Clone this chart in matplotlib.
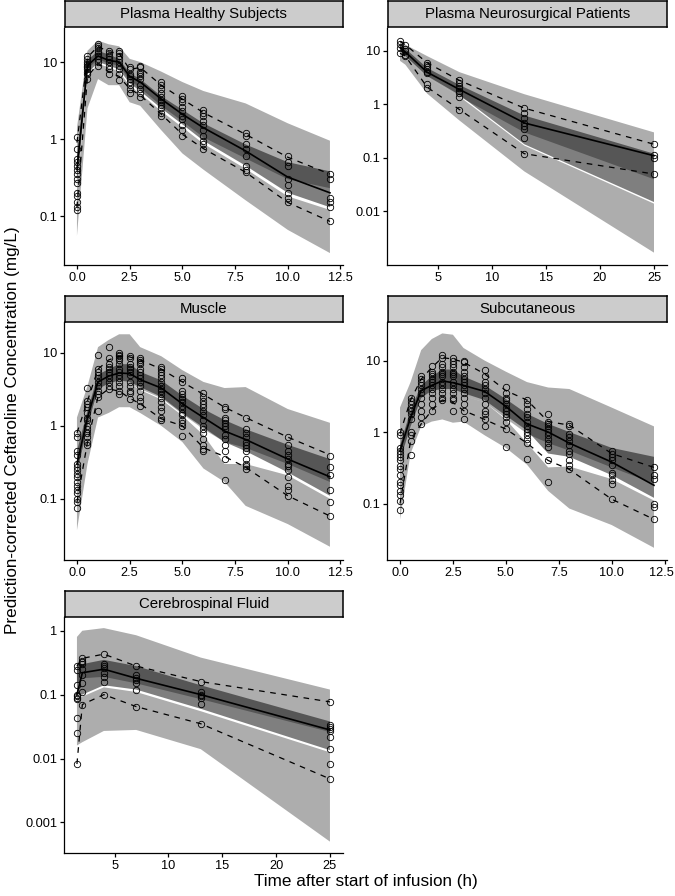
import matplotlib
matplotlib.use("Agg")
import matplotlib.pyplot as plt
import matplotlib.transforms as mtrans
from matplotlib.ticker import FixedLocator, FixedFormatter, NullLocator

plt.rcParams['font.family'] = ['Liberation Sans', 'DejaVu Sans']

# ---------------- Plasma Healthy Subjects ----------------
hs_t = [0, 0.5, 1, 1.5, 2, 2.5, 3, 4, 5, 6, 8, 10, 12]
hs_obs = [
    [1.05, 0.75, 0.55, 0.5, 0.45, 0.4, 0.35, 0.3, 0.27, 0.2, 0.18, 0.15, 0.13, 0.12],
    [12, 11, 10, 9.5, 9, 8.5, 8, 7.5, 7, 6],
    [17, 16, 15, 14, 13, 12, 11, 10, 9],
    [14, 13, 12, 11, 10, 9, 8, 7],
    [14, 13, 12, 11, 10, 9, 8, 7, 5.8],
    [8.5, 8, 7, 6.5, 6, 5.5, 5, 4.5, 4],
    [9, 8.5, 7.5, 7, 6.5, 6, 5, 4.5, 4, 3.5],
    [5.5, 5, 4.5, 4, 3.5, 3.2, 3, 2.8, 2.5, 2.2, 2],
    [3.6, 3.3, 3, 2.6, 2.3, 2, 1.8, 1.5, 1.3, 1.1],
    [2.4, 2.2, 2, 1.7, 1.5, 1.3, 1.1, 0.95, 0.85, 0.75],
    [1.2, 1.1, 0.85, 0.75, 0.6, 0.45, 0.4, 0.37],
    [0.6, 0.5, 0.45, 0.3, 0.25, 0.2, 0.17, 0.15],
    [0.35, 0.3, 0.17, 0.15, 0.13, 0.085],
]
hs_med = [0.4, 9, 12, 10.5, 10, 6.5, 5.5, 3.3, 2.1, 1.4, 0.7, 0.32, 0.2]
hs_p95 = [0.9, 11.5, 16, 13.5, 13, 8, 8.5, 5, 3.3, 2.2, 1.15, 0.58, 0.35]
hs_p05 = [0.13, 6.5, 9.5, 7.5, 6.5, 4.5, 3.7, 2.1, 1.15, 0.75, 0.37, 0.15, 0.085]
hs_hi_u = [1.4, 14, 19, 17, 16, 11, 10, 7.5, 5.5, 4.2, 2.9, 1.6, 0.95]
hs_hi_l = [0.3, 8, 11, 9.5, 9, 5.8, 4.6, 2.7, 1.7, 1.05, 0.56, 0.3, 0.23]
hs_md_u = [0.6, 10.5, 14, 12.5, 11, 7.2, 6, 3.6, 2.4, 1.6, 0.85, 0.5, 0.38]
hs_md_l = [0.25, 7, 10, 9, 8, 5.3, 4.2, 2.5, 1.55, 0.95, 0.45, 0.2, 0.13]
hs_lo_u = [0.22, 6.5, 9.5, 8.5, 7.5, 4.9, 3.9, 2.3, 1.42, 0.87, 0.41, 0.18, 0.12]
hs_lo_l = [0.055, 2.5, 6, 5, 5, 3, 2.7, 1.3, 0.65, 0.4, 0.16, 0.066, 0.033]

# ---------------- Plasma Neurosurgical Patients ----------------
ns_t = [1.5, 2, 4, 7, 13, 25]
ns_obs = [
    [15, 13.3, 11.5, 9],
    [13, 11, 10, 8.5, 8],
    [6, 5.5, 5, 4.5, 4, 3.8, 2.4, 2.0],
    [2.8, 2.5, 2.2, 2.0, 1.8, 1.6, 1.4, 0.8],
    [0.85, 0.7, 0.55, 0.45, 0.4, 0.35, 0.24, 0.12],
    [0.18, 0.115, 0.1, 0.05],
]
ns_med = [11.5, 9.5, 4, 1.9, 0.45, 0.11]
ns_p95 = [15, 13, 6, 2.8, 0.85, 0.18]
ns_p05 = [9, 8, 2.1, 0.8, 0.12, 0.05]
ns_hi_u = [15, 13, 8, 4.0, 1.55, 0.3]
ns_hi_l = [9.5, 7.5, 3.2, 1.4, 0.3, 0.04]
ns_md_u = [13, 11, 4.8, 2.3, 0.62, 0.12]
ns_md_l = [10, 8, 3.4, 1.5, 0.18, 0.015]
ns_lo_u = [9.5, 7.5, 3.2, 1.4, 0.17, 0.014]
ns_lo_l = [6.5, 5.5, 1.6, 0.5, 0.056, 0.0017]

# ---------------- Muscle ----------------
mu_t = [0, 0.5, 1, 1.5, 2, 2.5, 3, 4, 5, 6, 7, 8, 10, 12]
mu_obs = [
    [0.8, 0.7, 0.45, 0.4, 0.3, 0.27, 0.25, 0.22, 0.2, 0.17, 0.15, 0.13, 0.12, 0.1, 0.09, 0.075],
    [3.3, 2.2, 2, 1.8, 1.5, 1.3, 1.2, 1.0, 0.9, 0.8, 0.7, 0.6, 0.55],
    [9.5, 6, 5.5, 5, 4.5, 4, 3.5, 3, 2.7, 2.5, 1.6],
    [12, 8.5, 7, 6.5, 6, 5.5, 5, 4.5, 4, 3.5, 3.2],
    [10, 9.5, 9, 8.5, 8, 7, 6, 5.5, 5, 4.5, 4, 3.5, 3, 2.7],
    [9, 8.5, 7, 6.5, 6, 5.5, 5, 4, 3.5, 3, 2.8, 2.3],
    [8.5, 8, 7.5, 7, 6, 5.5, 5, 4.5, 4, 3.5, 3, 2.5, 2.2, 1.9],
    [6.5, 6, 5.5, 5, 4.5, 4, 3.5, 3.2, 3, 2.7, 2.4, 2.1, 1.8, 1.6, 1.3, 1.2],
    [4.5, 4, 3, 2.7, 2.5, 2.3, 2.1, 1.9, 1.7, 1.5, 1.4, 1.2, 1.1, 1.0, 0.72],
    [2.8, 2.5, 2.2, 2.0, 1.8, 1.6, 1.4, 1.2, 1.0, 0.9, 0.8, 0.65, 0.55, 0.48, 0.45],
    [1.8, 1.7, 1.3, 1.2, 1.1, 1.0, 0.9, 0.75, 0.65, 0.55, 0.45, 0.35, 0.18],
    [1.3, 0.9, 0.8, 0.7, 0.6, 0.55, 0.5, 0.45, 0.35, 0.3, 0.28, 0.26],
    [0.7, 0.55, 0.45, 0.4, 0.35, 0.3, 0.28, 0.25, 0.2, 0.15, 0.13, 0.11],
    [0.38, 0.27, 0.21, 0.13, 0.09, 0.058],
]
mu_med = [0.3, 1.3, 4, 4.8, 5.3, 5.2, 4.3, 3.3, 2.0, 1.3, 0.85, 0.65, 0.35, 0.2]
mu_p95 = [0.8, 2.2, 6, 8, 9, 8.8, 8, 6, 4, 2.7, 1.8, 1.3, 0.7, 0.4]
mu_p05 = [0.09, 0.6, 2.5, 3.2, 3.0, 2.4, 2.0, 1.25, 1.0, 0.5, 0.38, 0.27, 0.11, 0.058]
mu_hi_u = [1.3, 3.5, 12, 15, 18, 18, 12, 9, 5.8, 4, 3.3, 3.4, 1.7, 1.1]
mu_hi_l = [0.2, 0.95, 3.0, 3.6, 4.0, 3.8, 3.2, 2.4, 1.45, 0.9, 0.6, 0.5, 0.3, 0.17]
mu_md_u = [0.45, 1.6, 5, 6, 7, 7, 5.5, 4.2, 2.6, 1.7, 1.2, 0.9, 0.55, 0.35]
mu_md_l = [0.22, 1.0, 3.2, 3.8, 4.2, 4, 3.4, 2.5, 1.5, 0.95, 0.6, 0.45, 0.23, 0.11]
mu_lo_u = [0.2, 0.95, 3.0, 3.6, 4.0, 3.8, 3.1, 2.3, 1.38, 0.75, 0.3, 0.3, 0.21, 0.1]
mu_lo_l = [0.037, 0.3, 1.3, 1.5, 1.8, 1.8, 1.5, 1.0, 0.6, 0.26, 0.17, 0.08, 0.045, 0.022]

# ---------------- Subcutaneous ----------------
sc_t = [0, 0.5, 1, 1.5, 2, 2.5, 3, 4, 5, 6, 7, 8, 10, 12]
sc_obs = [
    [1.0, 0.9, 0.6, 0.55, 0.5, 0.45, 0.4, 0.33, 0.3, 0.25, 0.2, 0.18, 0.15, 0.13, 0.11, 0.08],
    [3, 2.7, 2.5, 2.2, 2, 1.8, 1.5, 1.0, 0.9, 0.75, 0.47],
    [6, 5.5, 5, 4.5, 4, 3.5, 3, 2.5, 2, 1.6, 1.3],
    [8.5, 7, 6.5, 6, 5.5, 5, 4.5, 4, 3.5, 3, 2.5, 2.0],
    [12, 11, 9, 8, 7, 6.5, 6, 5, 4.5, 4, 3.5, 3, 2.8],
    [11, 10, 9, 8, 7, 6.5, 6, 5, 4.5, 4, 3.5, 3, 2.8, 2.0],
    [10, 9.5, 8, 7, 6, 5.5, 5, 4.5, 4, 3.5, 3, 2.5, 2, 1.5],
    [7.5, 6, 5, 4.5, 4, 3.5, 3, 2.5, 2, 1.8, 1.5, 1.2],
    [4.2, 3.5, 3, 2.8, 2.5, 2.2, 2.0, 1.8, 1.6, 1.4, 1.1, 0.62],
    [2.8, 2.5, 2.1, 1.8, 1.6, 1.4, 1.2, 1.1, 1.0, 0.9, 0.8, 0.7, 0.42],
    [1.8, 1.4, 1.3, 1.2, 1.1, 1.0, 0.9, 0.8, 0.7, 0.62, 0.4, 0.2],
    [1.3, 1.2, 0.95, 0.85, 0.75, 0.65, 0.55, 0.5, 0.4, 0.35, 0.3],
    [0.55, 0.5, 0.45, 0.4, 0.35, 0.27, 0.25, 0.21, 0.19, 0.115],
    [0.32, 0.25, 0.22, 0.1, 0.09, 0.06],
]
sc_med = [0.55, 1.6, 3.8, 4.5, 5.2, 4.9, 4.5, 3.7, 2.3, 1.3, 1.0, 0.7, 0.38, 0.18]
sc_p95 = [0.95, 2.8, 5.5, 8, 11, 10.5, 9.5, 6.5, 3.8, 2.8, 1.4, 1.25, 0.5, 0.32]
sc_p05 = [0.1, 0.75, 1.3, 2.0, 2.8, 2.6, 2.0, 1.5, 1.1, 0.7, 0.4, 0.3, 0.115, 0.06]
sc_hi_u = [2.2, 5, 14, 20, 24, 23, 15, 10, 7, 5, 4.2, 4.0, 2.2, 1.2]
sc_hi_l = [0.35, 1.1, 2.8, 3.5, 3.7, 3.7, 3.2, 2.6, 1.55, 0.95, 0.7, 0.55, 0.32, 0.19]
sc_md_u = [0.65, 2.0, 4.5, 6, 7.5, 7.5, 6, 4.5, 2.9, 1.8, 1.3, 1.0, 0.6, 0.45]
sc_md_l = [0.4, 1.2, 3.0, 3.8, 4.0, 4.0, 3.5, 2.8, 1.7, 1.05, 0.5, 0.45, 0.25, 0.12]
sc_lo_u = [0.35, 1.1, 2.8, 3.5, 3.7, 3.7, 3.2, 2.6, 1.5, 0.7, 0.32, 0.33, 0.22, 0.11]
sc_lo_l = [0.06, 0.5, 1.2, 1.4, 1.5, 1.35, 1.4, 0.9, 0.6, 0.35, 0.15, 0.085, 0.05, 0.024]

# ---------------- Cerebrospinal Fluid ----------------
cf_t = [1.5, 2, 4, 7, 13, 25]
cf_obs = [
    [0.28, 0.24, 0.14, 0.1, 0.095, 0.09, 0.085, 0.043, 0.025, 0.0082],
    [0.37, 0.34, 0.32, 0.3, 0.25, 0.2, 0.15, 0.11, 0.07],
    [0.43, 0.3, 0.28, 0.26, 0.22, 0.19, 0.16, 0.1],
    [0.28, 0.2, 0.18, 0.17, 0.15, 0.12, 0.065],
    [0.16, 0.11, 0.1, 0.095, 0.09, 0.072, 0.035],
    [0.077, 0.033, 0.031, 0.029, 0.027, 0.022, 0.014, 0.0082, 0.0048],
]
cf_med = [0.1, 0.22, 0.25, 0.18, 0.1, 0.028]
cf_p95 = [0.28, 0.37, 0.43, 0.28, 0.16, 0.077]
cf_p05 = [0.0082, 0.07, 0.1, 0.065, 0.035, 0.0048]
cf_hi_u = [0.8, 1.0, 1.1, 0.85, 0.38, 0.12]
cf_hi_l = [0.15, 0.18, 0.19, 0.15, 0.085, 0.026]
cf_md_u = [0.3, 0.3, 0.35, 0.28, 0.14, 0.038]
cf_md_l = [0.1, 0.1, 0.14, 0.12, 0.06, 0.0135]
cf_lo_u = [0.093, 0.093, 0.13, 0.11, 0.055, 0.0125]
cf_lo_l = [0.016, 0.018, 0.027, 0.028, 0.014, 0.0005]

titles = ["Plasma Healthy Subjects", "Plasma Neurosurgical Patients", "Muscle",
          "Subcutaneous", "Cerebrospinal Fluid"]

W, H = 675, 896
fig = plt.figure(figsize=(W / 100, H / 100), dpi=100)


def px_axes(x0, y0, x1, y1):
    return fig.add_axes([x0 / W, 1 - y1 / H, (x1 - x0) / W, (y1 - y0) / H])


LEFT = (64.3, 342.6)
RIGHT = (387.3, 666.7)
panels = [
    (titles[0], LEFT, (28, 265), (1, 27.5), (-0.6, 12.6), (0.0231, 27.65),
     [0.1, 1, 10], ["0.1", "1", "10"], [0, 2.5, 5, 7.5, 10, 12.5],
     ["0.0", "2.5", "5.0", "7.5", "10.0", "12.5"],
     (hs_t, hs_obs, hs_med, hs_p95, hs_p05, hs_hi_u, hs_hi_l, hs_md_u, hs_md_l, hs_lo_u, hs_lo_l)),
    (titles[1], RIGHT, (28, 265), (1, 27.5), (0.325, 26.175), (0.001, 26.7),
     [0.01, 0.1, 1, 10], ["0.01", "0.1", "1", "10"], [5, 10, 15, 20, 25],
     ["5", "10", "15", "20", "25"],
     (ns_t, ns_obs, ns_med, ns_p95, ns_p05, ns_hi_u, ns_hi_l, ns_md_u, ns_md_l, ns_lo_u, ns_lo_l)),
    (titles[2], LEFT, (322.5, 560), (296, 322.5), (-0.6, 12.6), (0.01448, 26.1),
     [0.1, 1, 10], ["0.1", "1", "10"], [0, 2.5, 5, 7.5, 10, 12.5],
     ["0.0", "2.5", "5.0", "7.5", "10.0", "12.5"],
     (mu_t, mu_obs, mu_med, mu_p95, mu_p05, mu_hi_u, mu_hi_l, mu_md_u, mu_md_l, mu_lo_u, mu_lo_l)),
    (titles[3], RIGHT, (322.5, 560), (296, 322.5), (-0.6, 12.6), (0.0162, 34.1),
     [0.1, 1, 10], ["0.1", "1", "10"], [0, 2.5, 5, 7.5, 10, 12.5],
     ["0.0", "2.5", "5.0", "7.5", "10.0", "12.5"],
     (sc_t, sc_obs, sc_med, sc_p95, sc_p05, sc_hi_u, sc_hi_l, sc_md_u, sc_md_l, sc_lo_u, sc_lo_l)),
    (titles[4], LEFT, (617, 853), (591, 617), (0.325, 26.175), (0.000332, 1.64),
     [0.001, 0.01, 0.1, 1], ["0.001", "0.01", "0.1", "1"], [5, 10, 15, 20, 25],
     ["5", "10", "15", "20", "25"],
     (cf_t, cf_obs, cf_med, cf_p95, cf_p05, cf_hi_u, cf_hi_l, cf_md_u, cf_md_l, cf_lo_u, cf_lo_l)),
]

BAND_A = 0.32
MED_A = 0.50

for (title, (x0, x1), (y0, y1), (sy0, sy1), xlim, ylim, yt, ytl, xt, xtl, data) in panels:
    t, obs, med, p95, p05, hi_u, hi_l, md_u, md_l, lo_u, lo_l = data
    ax = px_axes(x0, y0, x1, y1)
    ax.set_yscale('log')
    ax.fill_between(t, lo_l, lo_u, facecolor='black', alpha=BAND_A, lw=0)
    ax.fill_between(t, hi_l, hi_u, facecolor='black', alpha=BAND_A, lw=0)
    ax.fill_between(t, md_l, md_u, facecolor='black', alpha=MED_A, lw=0)
    ax.plot(t, p95, color='black', lw=0.9, ls=(0, (4.5, 4.5)))
    ax.plot(t, p05, color='black', lw=0.9, ls=(0, (4.5, 4.5)))
    ax.plot(t, med, color='black', lw=1.2)
    for ti, vals in zip(t, obs):
        ax.plot([ti] * len(vals), vals, 'o', mfc='none', mec='black',
                ms=4.6, mew=0.6, ls='none')
    ax.set_xlim(*xlim)
    ax.set_ylim(*ylim)
    ax.yaxis.set_major_locator(FixedLocator(yt))
    ax.yaxis.set_major_formatter(FixedFormatter(ytl))
    ax.yaxis.set_minor_locator(NullLocator())
    ax.set_xticks(xt)
    ax.set_xticklabels(xtl)
    for s in ['top', 'right']:
        ax.spines[s].set_visible(False)
    for s in ['left', 'bottom']:
        ax.spines[s].set_linewidth(0.9)
        ax.spines[s].set_color('black')
    ax.tick_params(axis='both', direction='out', length=3.2, width=0.9,
                   colors='black', labelsize=9.2, pad=2)
    ax.set_facecolor('white')
    if x1 > 600 and xtl[-1] == "12.5":
        lab = ax.get_xticklabels()[-1]
        lab.set_transform(lab.get_transform() +
                          mtrans.ScaledTranslation(-3 / 100, 0, fig.dpi_scale_trans))

    sax = px_axes(x0 + 0.5, sy0, x1, sy1)
    sax.set_facecolor('#cccccc')
    sax.set_xticks([])
    sax.set_yticks([])
    for s in sax.spines.values():
        s.set_linewidth(1.1)
        s.set_color('black')
    sax.text(0.5, 0.5, title, ha='center', va='center', fontsize=10.8,
             color='black', transform=sax.transAxes)

fig.text(365.5 / W, 1 - 881 / H, "Time after start of infusion (h)",
         ha='center', va='center', fontsize=12.3)
fig.text(13 / W, 1 - 430 / H, "Prediction-corrected Ceftaroline Concentration (mg/L)",
         ha='center', va='center', rotation=90, fontsize=12.3)

fig.savefig("out.png", dpi=100, facecolor='white')
